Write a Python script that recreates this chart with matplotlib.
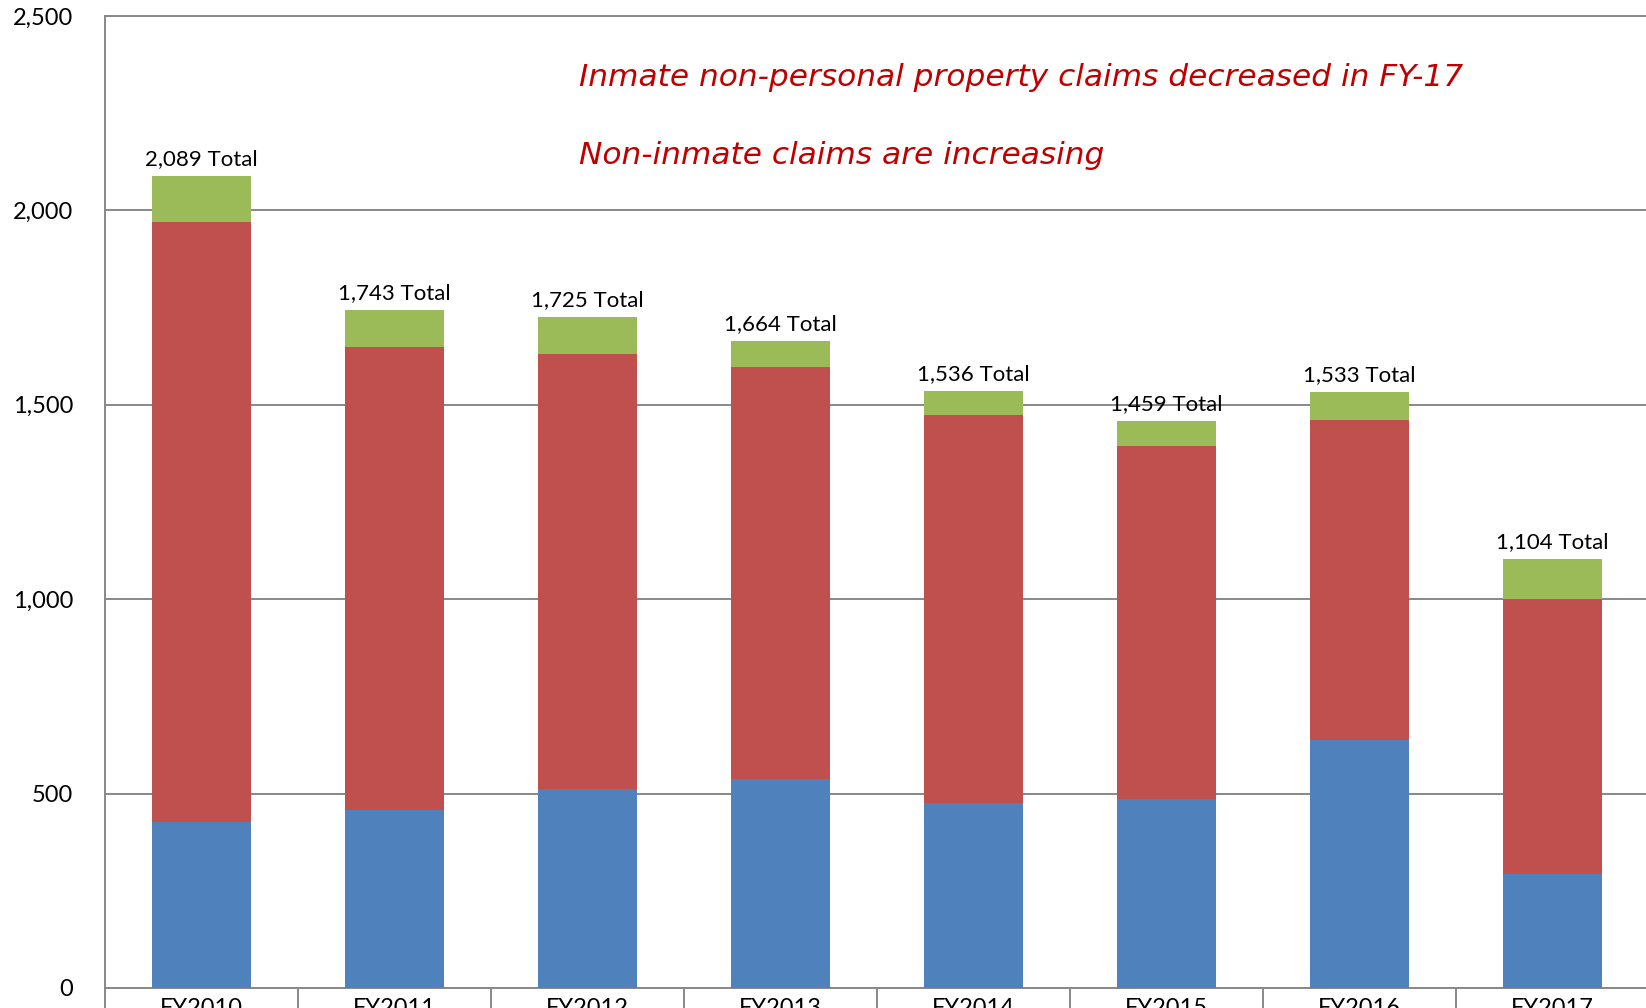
import matplotlib
matplotlib.use("Agg")
import matplotlib.pyplot as plt
import numpy as np
from matplotlib.ticker import FuncFormatter

# Data ===
years = ["FY2010", "FY2011", "FY2012", "FY2013", "FY2014", "FY2015", "FY2016", "FY2017"]
blue_vals = [426, 458, 513, 537, 475, 485, 637, 293]
red_vals = [1543, 1191, 1118, 1060, 999, 910, 823, 708]
green_vals = [120, 94, 94, 67, 62, 64, 73, 103]

note_lines = ["Inmate non-personal property claims decreased in FY-17",
              "Non-inmate claims are increasing"]

plt.rcParams['font.family'] = ['Lato', 'DejaVu Sans']

blue_c = "#4F81BD"
red_c = "#C0504D"
green_c = "#9BBB59"
grid_c = "#888888"

fig = plt.figure(figsize=(16.46, 10.08), dpi=100)
ax = fig.add_axes([105 / 1646, 1 - 988 / 1008, 1544 / 1646, (988 - 16) / 1008])

x = np.arange(len(years))
blue = np.array(blue_vals)
red = np.array(red_vals)
green = np.array(green_vals)
totals = blue + red + green

w = 0.51
ax.bar(x, blue, w, color=blue_c, zorder=3)
ax.bar(x, red, w, bottom=blue, color=red_c, zorder=3)
ax.bar(x, green, w, bottom=blue + red, color=green_c, zorder=3)

# Total labels above bars
for xi, t in zip(x, totals):
    ax.annotate(f"{t:,} Total", (xi, t), xytext=(0, 5), textcoords="offset points",
                ha="center", va="bottom", fontsize=16, color="black")

ax.set_xlim(-0.5, len(years) - 0.5)
ax.set_ylim(0, 2500)
ax.set_yticks(np.arange(0, 2501, 500))
ax.yaxis.set_major_formatter(FuncFormatter(lambda v, p: f"{int(v):,}"))
ax.tick_params(axis="y", length=0, pad=23, labelsize=17)

ax.set_xticks(x)
ax.set_xticklabels(years)
ax.set_xticks(np.arange(-0.5, len(years), 1), minor=True)
ax.tick_params(axis="x", which="major", length=0, pad=7, labelsize=17)
ax.tick_params(axis="x", which="minor", length=25, width=1.4, color=grid_c)

ax.yaxis.grid(True, color=grid_c, linewidth=1.4, zorder=0)
ax.set_axisbelow(True)
for s in ["left", "bottom", "top"]:
    ax.spines[s].set_color(grid_c)
    ax.spines[s].set_linewidth(1.4)
ax.spines["right"].set_visible(False)

# Red notes
fig.text(579 / 1646, 1 - 86 / 1008, note_lines[0], color="#C00000", fontsize=22.5,
         style="italic", family="DejaVu Sans", ha="left", va="baseline")
fig.text(579 / 1646, 1 - 164.5 / 1008, note_lines[1], color="#C00000", fontsize=22.5,
         style="italic", family="DejaVu Sans", ha="left", va="baseline")

plt.savefig("out.png", dpi=100)
